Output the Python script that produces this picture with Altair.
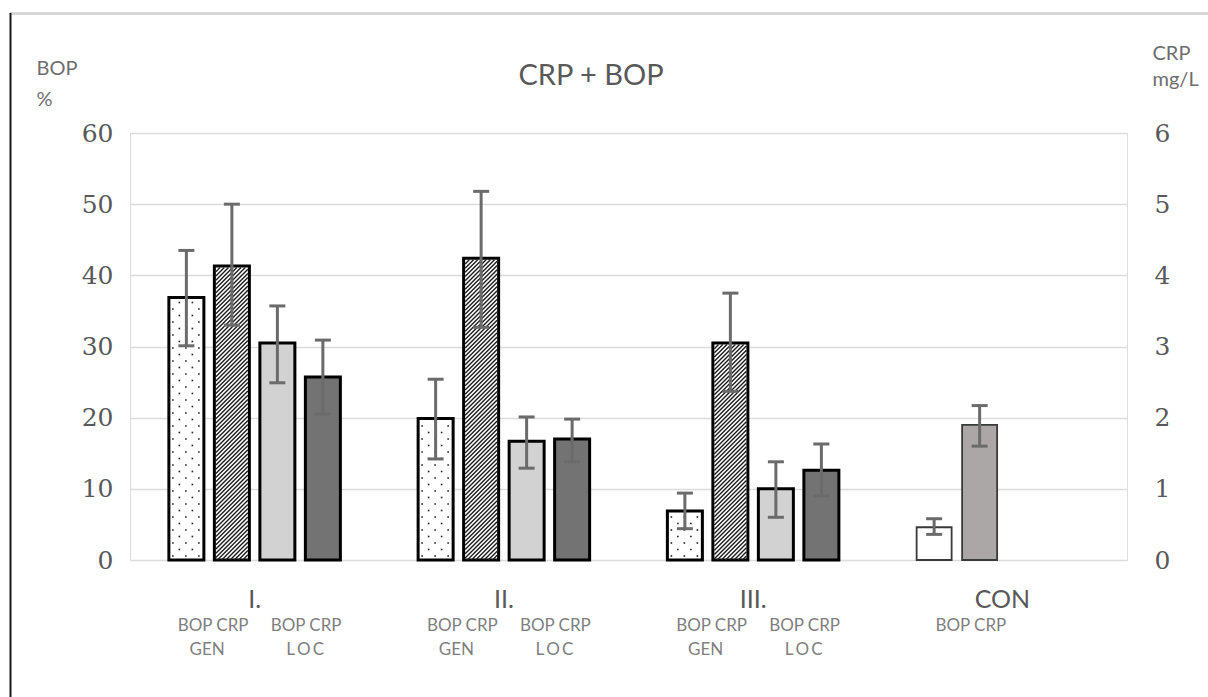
import altair as alt
import pandas as pd

# ---------------- data ----------------
title_text = "CRP + BOP"
groups = ["I.", "II.", "III.", "CON"]

bop_gen    = [36.9, 19.9, 6.9]
bop_gen_lo = [30.1, 14.2, 4.4]
bop_gen_hi = [43.5, 25.4, 9.4]

crp_gen    = [4.13, 4.24, 3.05]
crp_gen_lo = [3.30, 3.27, 2.37]
crp_gen_hi = [5.00, 5.18, 3.75]

bop_loc    = [30.5, 16.7, 10.0]
bop_loc_lo = [24.9, 12.9, 6.0]
bop_loc_hi = [35.7, 20.1, 13.8]

crp_loc    = [2.57, 1.70, 1.26]
crp_loc_lo = [2.05, 1.38, 0.90]
crp_loc_hi = [3.09, 1.98, 1.63]

con_bop = [4.6, 3.6, 5.8]      # value, low, high
con_crp = [1.90, 1.60, 2.17]   # value, low, high

bop_ticks = [0, 10, 20, 30, 40, 50, 60]
crp_ticks = [0, 1, 2, 3, 4, 5, 6]

# ---------------- layout ----------------
W, H = 997, 427
PX = W / 4.0            # pixels per group unit
PY_BOP = H / 60.0
PY_CRP = H / 6.0
STEP = 45.5 / PX
BARW = 35.0 / PX
CAP = 8.0 / PX


def center(g, k):
    return g + 0.5 + (k - 1.5) * STEP


def rows(style, g_list, k, vals, los, his):
    out = []
    for g, v, lo, hi in zip(g_list, vals, los, his):
        c = center(g, k)
        out.append(dict(style=style, g=g, xc=c, xl=c - BARW / 2, xr=c + BARW / 2,
                        cl=c - CAP, cr=c + CAP, v=v, lo=lo, hi=hi, zero=0.0))
    return out


bop_df = pd.DataFrame(
    rows("dots", [0, 1, 2], 0, bop_gen, bop_gen_lo, bop_gen_hi)
    + rows("fine", [0, 1, 2], 2, bop_loc, bop_loc_lo, bop_loc_hi)
    + rows("con_bop", [3], 0, [con_bop[0]], [con_bop[1]], [con_bop[2]])
)
crp_df = pd.DataFrame(
    rows("hatch", [0, 1, 2], 1, crp_gen, crp_gen_lo, crp_gen_hi)
    + rows("dark", [0, 1, 2], 3, crp_loc, crp_loc_lo, crp_loc_hi)
    + rows("con_crp", [3], 1, [con_crp[0]], [con_crp[1]], [con_crp[2]])
)

# sparse dot texture for BOP GEN bars
dot_pts = []
for _, r in bop_df[bop_df["style"] == "dots"].iterrows():
    hpx = r["v"] * PY_BOP
    row = 0
    py = 4.0
    while py < hpx - 3:
        cols = [5.5, 18.5, 31.5] if row % 2 == 0 else [12.0, 25.0]
        for pxx in cols:
            dot_pts.append(dict(x=r["xl"] + (pxx - 1.5) / PX, y=py / PY_BOP))
        py += 6.5
        row += 1
dots_df = pd.DataFrame(dot_pts)

# diagonal hatch texture for CRP GEN bars
hatch = []
for _, r in crp_df[crp_df["style"] == "hatch"].iterrows():
    inset = 1.5
    wpx = BARW * PX - 2 * inset
    hpx = r["v"] * PY_CRP - inset
    x0 = r["xl"] + inset / PX
    b = -hpx
    while b < wpx:
        p1 = max(0.0, b)
        p2 = min(wpx, hpx + b)
        if p2 > p1:
            hatch.append(dict(x=x0 + p1 / PX, y=(p1 - b) / PY_CRP,
                              x2=x0 + p2 / PX, y2=(p2 - b) / PY_CRP))
        b += 4.2
hatch_df = pd.DataFrame(hatch)

# labels
glabel_df = pd.DataFrame({"t": groups, "x": [g + 0.5 for g in range(4)]})
sub1 = []
sub2 = []
for g in range(3):
    sub1.append(dict(t="BOP CRP", x=(center(g, 0) + center(g, 1)) / 2 + 4 / PX))
    sub1.append(dict(t="BOP CRP", x=(center(g, 2) + center(g, 3)) / 2 + 6 / PX))
    sub2.append(dict(t="GEN", x=(center(g, 0) + center(g, 1)) / 2 - 2 / PX))
    sub2.append(dict(t="L\u2009O\u2009C", x=(center(g, 2) + center(g, 3)) / 2 + 5 / PX))
sub1.append(dict(t="BOP CRP", x=(center(3, 0) + center(3, 1)) / 2 + 14 / PX))
sub1_df = pd.DataFrame(sub1)
sub2_df = pd.DataFrame(sub2)

# ---------------- scales / axes ----------------
xs = alt.Scale(domain=[0, 4], nice=False, zero=False, padding=0)
ys_bop = alt.Scale(domain=[0, 60], nice=False)
ys_crp = alt.Scale(domain=[0, 6], nice=False)

LABEL_FONT = "DejaVu Serif"
SANS = "Lato"

ax_bop = alt.Axis(
    orient="left", values=bop_ticks, grid=True, gridColor="#dcdcdc", gridWidth=1.5,
    domain=False, ticks=False, labelPadding=17, labelFont=LABEL_FONT, labelFontSize=25,
    labelColor="#595959", title=["BOP", "%"], titleAngle=0, titleAlign="left",
    titleBaseline="top", titleX=-94, titleY=-75, titleFont=SANS, titleFontSize=20,
    titleFontWeight="normal", titleColor="#6e6e6e", titleLineHeight=31,
)
ax_crp = alt.Axis(
    orient="right", values=crp_ticks, grid=False, domain=False, ticks=False,
    labelPadding=27, labelFont=LABEL_FONT, labelFontSize=25, labelColor="#595959",
    title=["CRP", "mg/L"], titleAngle=0, titleAlign="left", titleBaseline="top",
    titleX=25, titleY=-90, titleFont=SANS, titleFontSize=20, titleFontWeight="normal",
    titleColor="#6e6e6e", titleLineHeight=26,
)

fill_scale = alt.Scale(
    domain=["dots", "fine", "con_bop", "hatch", "dark", "con_crp"],
    range=["#ffffff", "#d2d2d2", "#ffffff", "#ffffff", "#737373", "#aba7a7"],
)


def bars(df, yscale, axis, thick):
    is_con = (alt.datum.style == "con_bop") | (alt.datum.style == "con_crp")
    base = alt.Chart(df).transform_filter(~is_con if thick else is_con)
    return base.mark_rect(stroke="#000000" if thick else "#3a3a3a",
                          strokeWidth=3 if thick else 1.8).encode(
        x=alt.X("xl:Q", scale=xs, axis=None),
        x2="xr:Q",
        y=alt.Y("v:Q", scale=yscale, axis=axis),
        y2="zero:Q",
        fill=alt.Fill("style:N", scale=fill_scale, legend=None),
    )


def errbars(df, yscale, axis):
    stem = alt.Chart(df).mark_rule(color="#6b6b6b", strokeWidth=3).encode(
        x=alt.X("xc:Q", scale=xs, axis=None),
        y=alt.Y("lo:Q", scale=yscale, axis=axis),
        y2="hi:Q",
    )
    cap_lo = alt.Chart(df).mark_rule(color="#6b6b6b", strokeWidth=3).encode(
        x=alt.X("cl:Q", scale=xs, axis=None), x2="cr:Q",
        y=alt.Y("lo:Q", scale=yscale, axis=axis),
    )
    cap_hi = alt.Chart(df).mark_rule(color="#6b6b6b", strokeWidth=3).encode(
        x=alt.X("cl:Q", scale=xs, axis=None), x2="cr:Q",
        y=alt.Y("hi:Q", scale=yscale, axis=axis),
    )
    return stem + cap_lo + cap_hi


dots = alt.Chart(dots_df).mark_square(size=2.6, color="#222222", opacity=1).encode(
    x=alt.X("x:Q", scale=xs, axis=None),
    y=alt.Y("y:Q", scale=ys_bop, axis=ax_bop),
)
hatch_lines = alt.Chart(hatch_df).mark_rule(color="#1e1e1e", strokeWidth=1.4).encode(
    x=alt.X("x:Q", scale=xs, axis=None), x2="x2:Q",
    y=alt.Y("y:Q", scale=ys_crp, axis=ax_crp), y2="y2:Q",
)

bop_group = alt.layer(
    bars(bop_df, ys_bop, ax_bop, True),
    bars(bop_df, ys_bop, ax_bop, False),
    dots,
    errbars(bop_df, ys_bop, ax_bop),
)
crp_group = alt.layer(
    bars(crp_df, ys_crp, ax_crp, True),
    bars(crp_df, ys_crp, ax_crp, False),
    hatch_lines,
    errbars(crp_df, ys_crp, ax_crp),
)

glabels = alt.Chart(glabel_df).mark_text(
    font=SANS, fontSize=25, color="#595959", baseline="alphabetic", align="center"
).encode(x=alt.X("x:Q", scale=xs, axis=None), y=alt.value(H + 48), text="t:N")
sub1_lab = alt.Chart(sub1_df).mark_text(
    font=SANS, fontSize=17, color="#7f7f7f", baseline="alphabetic", align="center"
).encode(x=alt.X("x:Q", scale=xs, axis=None), y=alt.value(H + 71), text="t:N")
sub2_lab = alt.Chart(sub2_df).mark_text(
    font=SANS, fontSize=17, color="#7f7f7f", baseline="alphabetic", align="center",
).encode(x=alt.X("x:Q", scale=xs, axis=None), y=alt.value(H + 95), text="t:N")

title_df = pd.DataFrame({"t": [title_text]})
title_mark = alt.Chart(title_df).mark_text(
    font=SANS, fontSize=29, color="#595959", baseline="alphabetic", align="center"
).encode(x=alt.value(591 - 130), y=alt.value(85 - 133), text="t:N")

frame_df = pd.DataFrame({"a": [0]})
frame_left = alt.Chart(frame_df).mark_rule(color="#1a1a1a", strokeWidth=2).encode(
    x=alt.value(-119.5), y=alt.value(-120), y2=alt.value(H + 137))
frame_top = alt.Chart(frame_df).mark_rule(color="#d6d6d6", strokeWidth=3).encode(
    x=alt.value(-120), x2=alt.value(W + 81), y=alt.value(-119.5))

chart = alt.layer(
    frame_top, frame_left, bop_group, crp_group, glabels, sub1_lab, sub2_lab, title_mark
).resolve_scale(y="independent").properties(
    width=W, height=H,
    autosize="none",
    padding={"left": 130, "top": 133, "right": 81, "bottom": 137},
).configure_view(stroke="#d9d9d9", strokeWidth=1.5).configure(background="#ffffff")

chart.save("out.html", embed_options={"renderer": "svg", "actions": False})
